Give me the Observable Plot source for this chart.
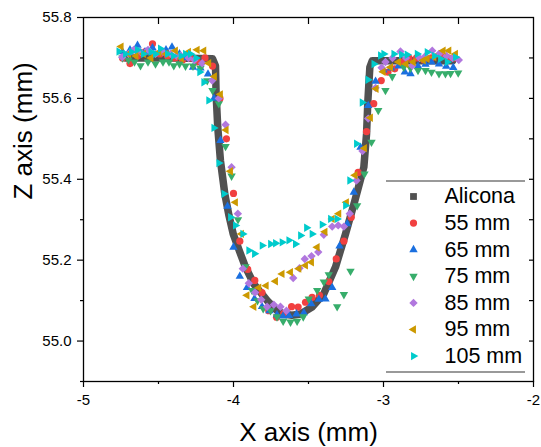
<!DOCTYPE html>
<html><head><meta charset="utf-8">
<script src="https://cdn.jsdelivr.net/npm/d3@7"></script>
<script src="https://cdn.jsdelivr.net/npm/@observablehq/plot@0.6"></script>
<style>html,body{margin:0;padding:0;background:#fff;}</style>
</head><body><div id="chart"></div>
<script>
// ---- data ----
const seriesNames = ["Alicona", "55 mm", "65 mm", "75 mm", "85 mm", "95 mm", "105 mm"];
const seriesColors = ["#515151", "#F14040", "#1A6FDF", "#37AD6B", "#B177DE", "#CC9900", "#00CBCC"];
const xTicks = [-5, -4, -3, -2];
const xMinorTicks = [-4.5, -3.5, -2.5];
const yTicks = [55.0, 55.2, 55.4, 55.6, 55.8];
const yMinorTicks = [54.9, 55.1, 55.3, 55.5, 55.7];

const alicona = [[-4.72,55.70],[-4.40,55.70],[-4.14,55.698],[-4.12,55.68],[-4.116,55.611],[-4.105,55.529],[-4.087,55.446],[-4.058,55.364],[-4.03,55.31],[-4.002,55.265],[-3.96,55.222],[-3.92,55.183],[-3.864,55.141],[-3.775,55.10],[-3.709,55.075],[-3.667,55.067],[-3.61,55.064],[-3.553,55.067],[-3.476,55.084],[-3.398,55.117],[-3.32,55.183],[-3.253,55.265],[-3.191,55.347],[-3.131,55.43],[-3.113,55.512],[-3.104,55.595],[-3.091,55.677],[-3.075,55.693],[-2.80,55.693],[-2.54,55.693]];

const s55 = [[-4.74,55.70],[-4.69,55.686],[-4.64,55.705],[-4.59,55.715],[-4.54,55.735],[-4.49,55.71],[-4.44,55.705],[-4.39,55.70],[-4.34,55.695],[-4.29,55.70],[-4.24,55.69],[-4.19,55.70],[-4.14,55.68],[-4.09,55.60],[-4.047,55.50],[-4.0,55.365],[-3.958,55.247],[-3.905,55.177],[-3.858,55.15],[-3.81,55.12],[-3.765,55.075],[-3.713,55.059],[-3.665,55.068],[-3.613,55.085],[-3.569,55.084],[-3.52,55.096],[-3.476,55.108],[-3.427,55.113],[-3.365,55.147],[-3.315,55.203],[-3.264,55.247],[-3.215,55.306],[-3.169,55.417],[-3.113,55.518],[-3.065,55.587],[-3.015,55.644],[-2.97,55.665],[-2.925,55.673],[-2.88,55.69],[-2.83,55.70],[-2.78,55.70],[-2.73,55.695],[-2.68,55.70],[-2.62,55.706],[-2.57,55.70],[-2.53,55.70]];

const s65 = [[-4.74,55.715],[-4.69,55.72],[-4.64,55.731],[-4.59,55.715],[-4.54,55.725],[-4.49,55.715],[-4.45,55.72],[-4.41,55.727],[-4.36,55.71],[-4.32,55.70],[-4.27,55.677],[-4.22,55.675],[-4.17,55.66],[-4.13,55.60],[-4.087,55.496],[-4.04,55.333],[-4.0,55.232],[-3.958,55.16],[-3.91,55.132],[-3.86,55.105],[-3.81,55.085],[-3.76,55.075],[-3.71,55.065],[-3.67,55.062],[-3.63,55.063],[-3.58,55.067],[-3.531,55.07],[-3.482,55.092],[-3.431,55.103],[-3.387,55.104],[-3.342,55.132],[-3.293,55.235],[-3.242,55.29],[-3.198,55.368],[-3.153,55.479],[-3.102,55.582],[-3.053,55.642],[-3.0,55.67],[-2.95,55.675],[-2.9,55.68],[-2.858,55.665],[-2.82,55.661],[-2.77,55.68],[-2.72,55.684],[-2.68,55.69],[-2.63,55.685],[-2.582,55.679],[-2.535,55.676]];

const s75 = [[-4.74,55.70],[-4.70,55.695],[-4.66,55.69],[-4.62,55.681],[-4.57,55.69],[-4.52,55.685],[-4.47,55.69],[-4.43,55.69],[-4.398,55.681],[-4.36,55.685],[-4.32,55.68],[-4.27,55.68],[-4.22,55.675],[-4.175,55.644],[-4.14,55.62],[-4.098,55.587],[-4.053,55.481],[-4.013,55.408],[-3.97,55.30],[-3.92,55.184],[-3.876,55.125],[-3.84,55.10],[-3.802,55.08],[-3.753,55.075],[-3.71,55.06],[-3.669,55.049],[-3.62,55.047],[-3.576,55.049],[-3.535,55.06],[-3.498,55.104],[-3.442,55.125],[-3.398,55.146],[-3.365,55.164],[-3.309,55.085],[-3.264,55.115],[-3.22,55.173],[-3.176,55.335],[-3.127,55.413],[-3.08,55.492],[-3.035,55.57],[-2.987,55.62],[-2.942,55.654],[-2.865,55.677],[-2.82,55.675],[-2.77,55.669],[-2.72,55.669],[-2.68,55.665],[-2.63,55.661],[-2.587,55.661],[-2.553,55.662],[-2.502,55.663]];

const s85 = [[-4.742,55.702],[-4.70,55.71],[-4.665,55.72],[-4.62,55.715],[-4.57,55.72],[-4.52,55.71],[-4.47,55.715],[-4.42,55.71],[-4.38,55.705],[-4.353,55.706],[-4.30,55.70],[-4.26,55.695],[-4.209,55.687],[-4.142,55.644],[-4.098,55.60],[-4.053,55.535],[-4.013,55.43],[-3.971,55.315],[-3.938,55.179],[-3.898,55.143],[-3.856,55.12],[-3.815,55.102],[-3.776,55.085],[-3.731,55.09],[-3.687,55.085],[-3.647,55.075],[-3.602,55.156],[-3.56,55.18],[-3.525,55.203],[-3.48,55.21],[-3.435,55.22],[-3.398,55.263],[-3.342,55.283],[-3.302,55.286],[-3.264,55.283],[-3.225,55.315],[-3.18,55.397],[-3.14,55.47],[-3.102,55.55],[-3.053,55.626],[-3.013,55.676],[-2.987,55.69],[-2.94,55.70],[-2.887,55.716],[-2.85,55.70],[-2.809,55.681],[-2.76,55.70],[-2.72,55.705],[-2.675,55.718],[-2.63,55.71],[-2.58,55.705],[-2.54,55.70],[-2.498,55.695]];

const s95 = [[-4.749,55.728],[-4.70,55.71],[-4.65,55.705],[-4.60,55.71],[-4.55,55.70],[-4.498,55.714],[-4.45,55.71],[-4.387,55.718],[-4.347,55.699],[-4.30,55.715],[-4.242,55.72],[-4.198,55.718],[-4.165,55.687],[-4.127,55.654],[-4.087,55.61],[-4.049,55.522],[-4.02,55.42],[-3.987,55.343],[-3.947,55.265],[-3.91,55.113],[-3.864,55.085],[-3.831,55.132],[-3.782,55.137],[-3.72,55.148],[-3.676,55.166],[-3.62,55.17],[-3.564,55.179],[-3.52,55.187],[-3.48,55.195],[-3.442,55.232],[-3.39,55.27],[-3.342,55.302],[-3.298,55.315],[-3.247,55.343],[-3.19,55.41],[-3.127,55.477],[-3.087,55.552],[-3.049,55.624],[-3.002,55.666],[-2.953,55.677],[-2.90,55.69],[-2.85,55.685],[-2.802,55.69],[-2.735,55.694],[-2.709,55.698],[-2.664,55.702],[-2.602,55.718],[-2.564,55.718],[-2.52,55.71]];

const s105 = [[-4.764,55.716],[-4.72,55.71],[-4.68,55.715],[-4.64,55.72],[-4.60,55.71],[-4.55,55.715],[-4.52,55.71],[-4.487,55.723],[-4.44,55.71],[-4.40,55.705],[-4.35,55.705],[-4.32,55.71],[-4.287,55.71],[-4.25,55.70],[-4.225,55.665],[-4.198,55.64],[-4.165,55.595],[-4.131,55.527],[-4.098,55.44],[-4.064,55.364],[-4.02,55.306],[-3.987,55.286],[-3.938,55.265],[-3.898,55.224],[-3.86,55.216],[-3.809,55.236],[-3.753,55.24],[-3.72,55.242],[-3.676,55.244],[-3.631,55.249],[-3.587,55.24],[-3.553,55.261],[-3.513,55.28],[-3.476,55.265],[-3.409,55.288],[-3.353,55.302],[-3.309,55.302],[-3.253,55.335],[-3.225,55.397],[-3.18,55.488],[-3.142,55.59],[-3.104,55.646],[-3.064,55.685],[-3.02,55.706],[-2.998,55.71],[-2.931,55.71],[-2.88,55.708],[-2.842,55.708],[-2.775,55.71],[-2.709,55.714],[-2.66,55.705],[-2.62,55.698],[-2.575,55.69],[-2.52,55.702]];

const scatterSeries = [s55, s65, s75, s85, s95, s105];

// ---- symbols ----
function rOf(s) { return Math.sqrt(s / Math.PI); }
const symSquare = {draw(c, s) { const r = rOf(s); c.rect(-r, -r, 2 * r, 2 * r); }};
const symCircle = {draw(c, s) { const r = rOf(s); c.moveTo(r, 0); c.arc(0, 0, r, 0, 2 * Math.PI); }};
const symDiamond = {draw(c, s) { const r = rOf(s); c.moveTo(0, -r); c.lineTo(r, 0); c.lineTo(0, r); c.lineTo(-r, 0); c.closePath(); }};
function tri(dir) {
  return {draw(c, s) {
    const a = rOf(s), h = Math.sqrt(3) * a;
    let pts = [[0, -2 * h / 3], [a, h / 3], [-a, h / 3]];
    pts = pts.map(([x, y]) => dir === "up" ? [x, y] : dir === "down" ? [x, -y] : dir === "left" ? [y, x] : [-y, x]);
    c.moveTo(pts[0][0], pts[0][1]); c.lineTo(pts[1][0], pts[1][1]); c.lineTo(pts[2][0], pts[2][1]); c.closePath();
  }};
}
const symbols = [symSquare, symCircle, tri("up"), tri("down"), symDiamond, tri("left"), tri("right")];
const radii = [3.4, 3.6, 4.2, 4.2, 4.2, 4.2, 4.2];

const marks = [];
marks.push(Plot.line(alicona, {x: d => d[0], y: d => d[1], stroke: seriesColors[0], strokeWidth: 7.5, strokeLinejoin: "round"}));
scatterSeries.forEach((s, i) => {
  marks.push(Plot.dot(s, {x: d => d[0], y: d => d[1], symbol: symbols[i + 1], r: radii[i + 1], fill: seriesColors[i + 1], stroke: "none"}));
});

// axes
marks.push(Plot.frame({stroke: "black", strokeWidth: 1.3}));
marks.push(Plot.axisX({ticks: xTicks, tickSize: 6, tickPadding: 7, tickFormat: d => String(d), label: null, strokeWidth: 1.2}));
marks.push(Plot.axisX({ticks: xMinorTicks, tickSize: 3, tickFormat: () => "", label: null, strokeWidth: 1.2}));
marks.push(Plot.axisX({anchor: "top", ticks: xMinorTicks.concat(xTicks.slice(1, 3)), tickSize: 6, dy: 6, tickFormat: () => "", label: null, strokeWidth: 1.2}));
marks.push(Plot.axisY({ticks: yTicks, tickSize: 6, tickPadding: 6, tickFormat: d3.format(".1f"), label: null, strokeWidth: 1.2}));
marks.push(Plot.axisY({ticks: yMinorTicks, tickSize: 3, tickFormat: () => "", label: null, strokeWidth: 1.2}));
marks.push(Plot.axisY({anchor: "right", ticks: yTicks.concat(yMinorTicks).filter(v => v > 54.95 && v < 55.75), tickSize: 5, dx: -5, tickFormat: () => "", label: null, strokeWidth: 1.2}));

// titles
marks.push(Plot.text(["X axis (mm)"], {text: d => d, frameAnchor: "bottom", dy: 59, lineAnchor: "bottom", fontSize: 26, fill: "black"}));
marks.push(Plot.text(["Z axis (mm)"], {text: d => d, frameAnchor: "left", dx: -52, rotate: -90, lineAnchor: "bottom", fontSize: 26, fill: "black"}));

// legend
seriesNames.forEach((name, i) => {
  marks.push(Plot.dot([name], {frameAnchor: "top-left", dx: 330, dy: 179 + i * 26.6, symbol: symbols[i], r: radii[i], fill: seriesColors[i], stroke: "none"}));
  marks.push(Plot.text([name], {text: d => d, frameAnchor: "top-left", dx: 361, dy: 179 + i * 26.6, textAnchor: "start", lineAnchor: "middle", fontSize: 21.5, fill: "black"}));
});

const chart = Plot.plot({
  width: 541, height: 447,
  marginLeft: 83, marginRight: 8, marginTop: 17, marginBottom: 66,
  x: {domain: [-5, -2]},
  y: {domain: [54.9, 55.8]},
  style: {fontFamily: "'Liberation Sans', Arial, sans-serif", fontSize: "15px", background: "white", color: "black", overflow: "visible"},
  marks
});

// legend frame lines
const svg = d3.select(chart);
[181, 372].forEach(y => {
  svg.append("line").attr("x1", 386).attr("x2", 525).attr("y1", y).attr("y2", y)
    .attr("stroke", "#777").attr("stroke-width", 1.3);
});
document.getElementById("chart").appendChild(chart);
</script></body></html>
